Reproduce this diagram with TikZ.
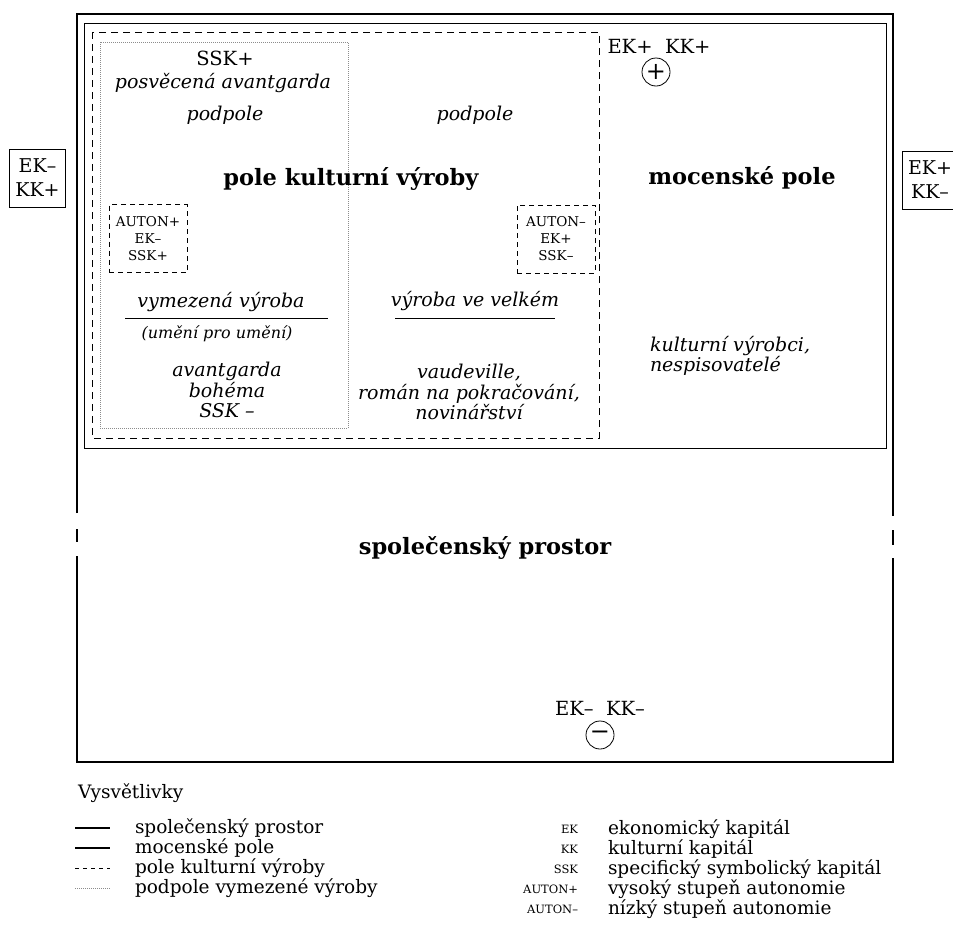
\documentclass[tikz,border=0pt]{standalone}
\usepackage{fontspec}
\setmainfont{DejaVu Serif}
\usetikzlibrary{positioning}

\begin{document}
\begin{tikzpicture}[x=1pt, y=-1pt,
  every node/.style={inner sep=0pt, outer sep=0pt},
  spacefr/.style={line width=2pt},
  powerfr/.style={line width=0.8pt},
  culturefr/.style={line width=0.9pt, dash pattern=on 7pt off 5pt},
  subfr/.style={line width=0.7pt, draw=black!45, dash pattern=on 1pt off 1pt},
  capbox/.style={draw, line width=0.7pt, minimum width=56pt, minimum height=58pt,
                 align=center, font=\fontsize{19}{24}\selectfont},
  autonbox/.style={draw, line width=0.8pt, dash pattern=on 5pt off 4pt,
                   minimum width=78pt, minimum height=68pt, align=center,
                   font=\fontsize{13.5}{17}\selectfont},
  bigtxt/.style={font=\fontsize{22.5}{24}\selectfont\bfseries},
  itxt/.style={font=\fontsize{19}{20.5}\selectfont\itshape, align=center},
  captxt/.style={font=\fontsize{19.5}{21}\selectfont},
  signcirc/.style={draw, circle, line width=0.8pt, minimum size=28pt,
                   font=\fontsize{24}{24}\selectfont},
  legtxt/.style={anchor=west, font=\fontsize{18.5}{20}\selectfont},
  abbr/.style={anchor=east, font=\fontsize{11.5}{12}\selectfont}
]
\useasboundingbox (0,0) rectangle (953,937);

\draw[spacefr] (77,513) -- (77,14) -- (893,14) -- (893,516);
\draw[spacefr] (77,556) -- (77,762) -- (893,762) -- (893,558);
\draw[spacefr] (77,529) -- (77,542);
\draw[spacefr] (893,530) -- (893,545);
\draw[powerfr] (84,23) rectangle (886,448);
\draw[culturefr] (92,32) rectangle (599,438);
\draw[subfr] (100,42) rectangle (348,428);

\node[capbox] (leftbox) at (37.5,178) {EK–\\KK+};
\node[capbox, anchor=west] (rightbox) at (902,180) {EK+\\KK–};

\node[captxt] (sskplus) at (225,58) {SSK+};
\node[itxt] (posvec) at (223,83) {posvěcená avantgarda};
\node[itxt] (podleft) at (225,115) {podpole};
\node[itxt] (podright) at (475,115) {podpole};
\node[bigtxt] (pkv) at (351,179) {pole kulturní výroby};
\node[bigtxt] (moc) at (742,178) {mocenské pole};
\node[captxt] (ekkkplus) at (659,46) {EK+\ \ KK+};
\node[signcirc] (plus) at (656,72) {+};

\node[autonbox] (autplus) at (148,238.5) {AUTON+\\EK–\\SSK+};
\node[autonbox] (autminus) at (556,239) {AUTON–\\EK+\\SSK–};

\node[itxt] (vymez) at (221,302) {vymezená výroba};
\draw[line width=0.8pt] (125,318) -- (328,318);
\node[itxt, font=\fontsize{16}{18}\selectfont\itshape] (upu) at (217,334) {(umění pro umění)};
\node[itxt] (avant) at (227,390) {avantgarda\\bohéma\\SSK –};

\node[itxt] (velkem) at (475,301) {výroba ve velkém};
\draw[line width=0.8pt] (395,318) -- (555,318);
\node[itxt] (vaud) at (469,392) {vaudeville,\\román na pokračování,\\novinářství};

\node[itxt, align=left, anchor=west] (kvyr) at (650,356) {kulturní výrobci,\\nespisovatelé};

\node[bigtxt] (spol) at (485,548) {společenský prostor};
\node[captxt] (ekkkminus) at (600,708) {EK–\ \ KK–};
\node[signcirc] (minus) at (600,735) {−};

\node[legtxt] (vysv) at (78,793) {Vysvětlivky};
\draw[line width=2.6pt] (75,828) -- (110,828);
\node[legtxt] (leg1) at (135,828) {společenský prostor};
\draw[line width=1.2pt] (75,848) -- (110,848);
\node[legtxt] (leg2) at (135,848) {mocenské pole};
\draw[line width=1pt, dash pattern=on 4pt off 4pt] (75,868) -- (110,868);
\node[legtxt] (leg3) at (135,868) {pole kulturní výroby};
\draw[line width=1pt, draw=black!45, dash pattern=on 1pt off 1pt] (75,888) -- (110,888);
\node[legtxt] (leg4) at (135,888) {podpole vymezené výroby};

\node[abbr] (abek) at (578,829) {EK};
\node[legtxt] (desek) at (608,829) {ekonomický kapitál};
\node[abbr] (abkk) at (578,849) {KK};
\node[legtxt] (deskk) at (608,849) {kulturní kapitál};
\node[abbr] (abssk) at (578,869) {SSK};
\node[legtxt] (desssk) at (608,869) {specifický symbolický kapitál};
\node[abbr] (abap) at (578,889) {AUTON+};
\node[legtxt] (desap) at (608,889) {vysoký stupeň autonomie};
\node[abbr] (abam) at (578,909) {AUTON–};
\node[legtxt] (desam) at (608,909) {nízký stupeň autonomie};
\end{tikzpicture}
\end{document}
